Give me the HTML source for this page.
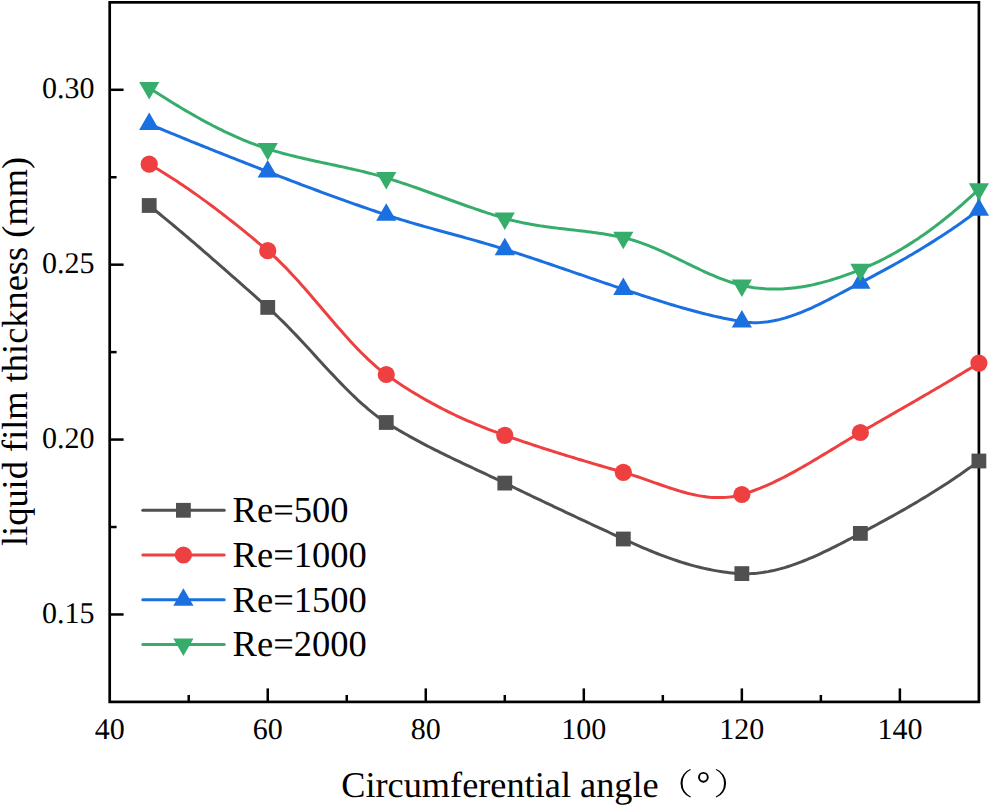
<!DOCTYPE html>
<html><head><meta charset="utf-8"><style>
html,body{margin:0;padding:0;background:#fff;}
svg{display:block;font-family:"Liberation Serif",serif;text-rendering:geometricPrecision;}
</style></head><body>
<svg width="990" height="806" viewBox="0 0 990 806">
<g stroke="#000" stroke-width="2.5"><line x1="188.72" y1="701.90" x2="188.72" y2="695.00"/><line x1="267.74" y1="701.90" x2="267.74" y2="688.40"/><line x1="346.75" y1="701.90" x2="346.75" y2="695.00"/><line x1="425.77" y1="701.90" x2="425.77" y2="688.40"/><line x1="504.79" y1="701.90" x2="504.79" y2="695.00"/><line x1="583.81" y1="701.90" x2="583.81" y2="688.40"/><line x1="662.83" y1="701.90" x2="662.83" y2="695.00"/><line x1="741.85" y1="701.90" x2="741.85" y2="688.40"/><line x1="820.86" y1="701.90" x2="820.86" y2="695.00"/><line x1="899.88" y1="701.90" x2="899.88" y2="688.40"/><line x1="109.70" y1="614.46" x2="123.60" y2="614.46"/><line x1="109.70" y1="527.01" x2="116.60" y2="527.01"/><line x1="109.70" y1="439.57" x2="123.60" y2="439.57"/><line x1="109.70" y1="352.12" x2="116.60" y2="352.12"/><line x1="109.70" y1="264.68" x2="123.60" y2="264.68"/><line x1="109.70" y1="177.24" x2="116.60" y2="177.24"/><line x1="109.70" y1="89.79" x2="123.60" y2="89.79"/></g>
<rect x="109.70" y="2.35" width="869.20" height="699.55" fill="none" stroke="#000" stroke-width="2.7"/>
<polyline points="149.2,205.50 152.0,207.74 154.8,209.99 157.5,212.24 160.3,214.51 163.1,216.79 165.9,219.09 168.6,221.39 171.4,223.70 174.2,226.01 177.0,228.34 179.7,230.68 182.5,233.02 185.3,235.38 188.1,237.74 190.8,240.10 193.6,242.48 196.4,244.86 199.2,247.25 201.9,249.64 204.7,252.04 207.5,254.44 210.3,256.85 213.0,259.27 215.8,261.69 218.6,264.11 221.4,266.54 224.1,268.97 226.9,271.40 229.7,273.84 232.5,276.28 235.2,278.72 238.0,281.17 240.8,283.61 243.6,286.06 246.3,288.51 249.1,290.96 251.9,293.41 254.7,295.86 257.4,298.31 260.2,300.76 263.0,303.20 265.8,305.65 268.5,308.10 271.3,310.60 274.1,313.16 276.9,315.78 279.6,318.45 282.4,321.17 285.2,323.94 288.0,326.76 290.7,329.61 293.5,332.49 296.3,335.41 299.1,338.36 301.8,341.32 304.6,344.31 307.4,347.31 310.2,350.33 312.9,353.35 315.7,356.37 318.5,359.40 321.3,362.42 324.0,365.43 326.8,368.43 329.6,371.42 332.4,374.38 335.1,377.32 337.9,380.24 340.7,383.12 343.5,385.96 346.2,388.77 349.0,391.53 351.8,394.25 354.6,396.92 357.3,399.53 360.1,402.08 362.9,404.57 365.7,406.99 368.4,409.34 371.2,411.61 374.0,413.81 376.7,415.93 379.5,417.96 382.3,419.89 385.1,421.74 387.8,423.50 390.6,425.22 393.4,426.92 396.2,428.59 398.9,430.24 401.7,431.87 404.5,433.47 407.3,435.05 410.0,436.60 412.8,438.14 415.6,439.66 418.4,441.16 421.1,442.64 423.9,444.10 426.7,445.55 429.5,446.98 432.2,448.40 435.0,449.81 437.8,451.20 440.6,452.58 443.3,453.94 446.1,455.30 448.9,456.65 451.7,457.99 454.4,459.32 457.2,460.64 460.0,461.96 462.8,463.28 465.5,464.59 468.3,465.89 471.1,467.19 473.9,468.49 476.6,469.79 479.4,471.09 482.2,472.39 485.0,473.69 487.7,474.99 490.5,476.30 493.3,477.61 496.1,478.93 498.8,480.25 501.6,481.57 504.4,482.91 507.2,484.25 509.9,485.59 512.7,486.92 515.5,488.26 518.3,489.59 521.0,490.92 523.8,492.25 526.6,493.58 529.4,494.91 532.1,496.23 534.9,497.56 537.7,498.88 540.5,500.20 543.2,501.52 546.0,502.84 548.8,504.16 551.6,505.47 554.3,506.78 557.1,508.10 559.9,509.41 562.7,510.72 565.4,512.03 568.2,513.33 571.0,514.64 573.8,515.94 576.5,517.25 579.3,518.55 582.1,519.85 584.9,521.15 587.6,522.44 590.4,523.74 593.2,525.03 596.0,526.33 598.7,527.62 601.5,528.91 604.3,530.20 607.1,531.48 609.8,532.77 612.6,534.06 615.4,535.34 618.2,536.62 620.9,537.90 623.7,539.18 626.5,540.45 629.3,541.71 632.0,542.96 634.8,544.19 637.6,545.41 640.4,546.62 643.1,547.80 645.9,548.97 648.7,550.13 651.5,551.26 654.2,552.38 657.0,553.48 659.8,554.55 662.6,555.61 665.3,556.64 668.1,557.65 670.9,558.64 673.7,559.60 676.4,560.54 679.2,561.45 682.0,562.34 684.8,563.20 687.5,564.03 690.3,564.83 693.1,565.61 695.9,566.35 698.6,567.06 701.4,567.74 704.2,568.39 707.0,569.01 709.7,569.59 712.5,570.13 715.3,570.65 718.1,571.12 720.8,571.56 723.6,571.96 726.4,572.32 729.2,572.64 731.9,572.93 734.7,573.17 737.5,573.37 740.3,573.53 743.0,573.64 745.8,573.69 748.6,573.66 751.4,573.56 754.1,573.40 756.9,573.17 759.7,572.87 762.5,572.51 765.2,572.09 768.0,571.62 770.8,571.08 773.6,570.49 776.3,569.84 779.1,569.14 781.9,568.39 784.7,567.59 787.4,566.74 790.2,565.85 793.0,564.92 795.8,563.94 798.5,562.92 801.3,561.86 804.1,560.77 806.9,559.64 809.6,558.48 812.4,557.29 815.2,556.06 818.0,554.81 820.7,553.53 823.5,552.23 826.3,550.90 829.1,549.55 831.8,548.19 834.6,546.80 837.4,545.40 840.2,543.98 842.9,542.56 845.7,541.12 848.5,539.67 851.3,538.21 854.0,536.75 856.8,535.29 859.6,533.82 862.4,532.35 865.1,530.88 867.9,529.40 870.7,527.92 873.5,526.43 876.2,524.94 879.0,523.44 881.8,521.93 884.6,520.42 887.3,518.89 890.1,517.36 892.9,515.82 895.7,514.27 898.4,512.72 901.2,511.15 904.0,509.57 906.8,507.98 909.5,506.37 912.3,504.76 915.1,503.13 917.9,501.49 920.6,499.83 923.4,498.16 926.2,496.48 929.0,494.78 931.7,493.06 934.5,491.33 937.3,489.58 940.1,487.81 942.8,486.03 945.6,484.23 948.4,482.41 951.2,480.57 953.9,478.71 956.7,476.83 959.5,474.93 962.3,473.01 965.0,471.06 967.8,469.10 970.6,467.11 973.4,465.10 976.1,463.06 978.9,461.00" fill="none" stroke="#505050" stroke-width="3.0" stroke-linejoin="round" stroke-linecap="round"/>
<polyline points="149.2,164.20 152.0,165.80 154.8,167.43 157.5,169.08 160.3,170.76 163.1,172.46 165.9,174.18 168.6,175.93 171.4,177.70 174.2,179.49 177.0,181.31 179.7,183.15 182.5,185.00 185.3,186.89 188.1,188.79 190.8,190.71 193.6,192.65 196.4,194.61 199.2,196.60 201.9,198.60 204.7,200.62 207.5,202.65 210.3,204.71 213.0,206.78 215.8,208.87 218.6,210.98 221.4,213.10 224.1,215.24 226.9,217.40 229.7,219.57 232.5,221.76 235.2,223.96 238.0,226.17 240.8,228.40 243.6,230.64 246.3,232.90 249.1,235.17 251.9,237.45 254.7,239.74 257.4,242.04 260.2,244.36 263.0,246.69 265.8,249.02 268.5,251.38 271.3,253.80 274.1,256.31 276.9,258.90 279.6,261.57 282.4,264.31 285.2,267.12 288.0,270.00 290.7,272.93 293.5,275.92 296.3,278.95 299.1,282.03 301.8,285.15 304.6,288.31 307.4,291.50 310.2,294.71 312.9,297.94 315.7,301.19 318.5,304.45 321.3,307.71 324.0,310.98 326.8,314.25 329.6,317.50 332.4,320.75 335.1,323.97 337.9,327.18 340.7,330.35 343.5,333.50 346.2,336.61 349.0,339.68 351.8,342.70 354.6,345.67 357.3,348.58 360.1,351.44 362.9,354.23 365.7,356.95 368.4,359.59 371.2,362.16 374.0,364.64 376.7,367.04 379.5,369.33 382.3,371.54 385.1,373.63 387.8,375.64 390.6,377.60 393.4,379.53 396.2,381.43 398.9,383.30 401.7,385.14 404.5,386.94 407.3,388.72 410.0,390.47 412.8,392.19 415.6,393.88 418.4,395.54 421.1,397.17 423.9,398.77 426.7,400.35 429.5,401.90 432.2,403.43 435.0,404.93 437.8,406.40 440.6,407.85 443.3,409.27 446.1,410.67 448.9,412.05 451.7,413.40 454.4,414.73 457.2,416.04 460.0,417.32 462.8,418.58 465.5,419.82 468.3,421.04 471.1,422.24 473.9,423.42 476.6,424.58 479.4,425.72 482.2,426.84 485.0,427.94 487.7,429.02 490.5,430.09 493.3,431.14 496.1,432.17 498.8,433.18 501.6,434.18 504.4,435.16 507.2,436.13 509.9,437.09 512.7,438.05 515.5,439.00 518.3,439.95 521.0,440.89 523.8,441.82 526.6,442.75 529.4,443.67 532.1,444.59 534.9,445.50 537.7,446.41 540.5,447.31 543.2,448.21 546.0,449.10 548.8,449.98 551.6,450.86 554.3,451.74 557.1,452.61 559.9,453.48 562.7,454.34 565.4,455.20 568.2,456.06 571.0,456.91 573.8,457.75 576.5,458.60 579.3,459.44 582.1,460.27 584.9,461.10 587.6,461.93 590.4,462.75 593.2,463.57 596.0,464.39 598.7,465.21 601.5,466.02 604.3,466.83 607.1,467.63 609.8,468.44 612.6,469.24 615.4,470.03 618.2,470.83 620.9,471.62 623.7,472.41 626.5,473.23 629.3,474.07 632.0,474.94 634.8,475.84 637.6,476.76 640.4,477.70 643.1,478.66 645.9,479.62 648.7,480.60 651.5,481.58 654.2,482.56 657.0,483.54 659.8,484.51 662.6,485.48 665.3,486.43 668.1,487.36 670.9,488.28 673.7,489.18 676.4,490.05 679.2,490.88 682.0,491.69 684.8,492.46 687.5,493.19 690.3,493.88 693.1,494.52 695.9,495.11 698.6,495.64 701.4,496.12 704.2,496.54 707.0,496.90 709.7,497.19 712.5,497.40 715.3,497.55 718.1,497.61 720.8,497.60 723.6,497.50 726.4,497.31 729.2,497.03 731.9,496.66 734.7,496.19 737.5,495.61 740.3,494.94 743.0,494.15 745.8,493.31 748.6,492.42 751.4,491.47 754.1,490.48 756.9,489.43 759.7,488.35 762.5,487.22 765.2,486.05 768.0,484.83 770.8,483.58 773.6,482.30 776.3,480.97 779.1,479.62 781.9,478.23 784.7,476.81 787.4,475.36 790.2,473.89 793.0,472.39 795.8,470.86 798.5,469.31 801.3,467.75 804.1,466.16 806.9,464.56 809.6,462.94 812.4,461.30 815.2,459.66 818.0,458.00 820.7,456.33 823.5,454.66 826.3,452.98 829.1,451.30 831.8,449.61 834.6,447.92 837.4,446.24 840.2,444.55 842.9,442.87 845.7,441.20 848.5,439.53 851.3,437.87 854.0,436.22 856.8,434.58 859.6,432.96 862.4,431.35 865.1,429.74 867.9,428.14 870.7,426.53 873.5,424.93 876.2,423.33 879.0,421.73 881.8,420.14 884.6,418.54 887.3,416.95 890.1,415.35 892.9,413.76 895.7,412.16 898.4,410.57 901.2,408.97 904.0,407.37 906.8,405.78 909.5,404.18 912.3,402.58 915.1,400.97 917.9,399.37 920.6,397.76 923.4,396.15 926.2,394.54 929.0,392.93 931.7,391.31 934.5,389.69 937.3,388.07 940.1,386.44 942.8,384.81 945.6,383.17 948.4,381.53 951.2,379.88 953.9,378.23 956.7,376.57 959.5,374.91 962.3,373.24 965.0,371.57 967.8,369.89 970.6,368.20 973.4,366.51 976.1,364.81 978.9,363.10" fill="none" stroke="#ee4040" stroke-width="3.0" stroke-linejoin="round" stroke-linecap="round"/>
<polyline points="149.2,124.10 152.0,125.26 154.8,126.43 157.5,127.58 160.3,128.74 163.1,129.89 165.9,131.04 168.6,132.19 171.4,133.33 174.2,134.47 177.0,135.61 179.7,136.74 182.5,137.88 185.3,139.01 188.1,140.13 190.8,141.26 193.6,142.38 196.4,143.50 199.2,144.62 201.9,145.74 204.7,146.85 207.5,147.96 210.3,149.07 213.0,150.18 215.8,151.29 218.6,152.39 221.4,153.49 224.1,154.59 226.9,155.69 229.7,156.79 232.5,157.88 235.2,158.98 238.0,160.07 240.8,161.16 243.6,162.25 246.3,163.34 249.1,164.43 251.9,165.51 254.7,166.60 257.4,167.68 260.2,168.77 263.0,169.85 265.8,170.93 268.5,172.01 271.3,173.09 274.1,174.16 276.9,175.24 279.6,176.31 282.4,177.38 285.2,178.44 288.0,179.51 290.7,180.57 293.5,181.63 296.3,182.68 299.1,183.73 301.8,184.78 304.6,185.83 307.4,186.87 310.2,187.91 312.9,188.95 315.7,189.98 318.5,191.01 321.3,192.04 324.0,193.06 326.8,194.08 329.6,195.10 332.4,196.11 335.1,197.12 337.9,198.12 340.7,199.12 343.5,200.12 346.2,201.11 349.0,202.10 351.8,203.08 354.6,204.06 357.3,205.03 360.1,206.00 362.9,206.96 365.7,207.92 368.4,208.88 371.2,209.83 374.0,210.78 376.7,211.72 379.5,212.65 382.3,213.58 385.1,214.51 387.8,215.42 390.6,216.33 393.4,217.22 396.2,218.10 398.9,218.97 401.7,219.83 404.5,220.67 407.3,221.51 410.0,222.33 412.8,223.15 415.6,223.96 418.4,224.76 421.1,225.56 423.9,226.35 426.7,227.13 429.5,227.91 432.2,228.68 435.0,229.45 437.8,230.22 440.6,230.98 443.3,231.74 446.1,232.50 448.9,233.26 451.7,234.02 454.4,234.78 457.2,235.54 460.0,236.30 462.8,237.06 465.5,237.83 468.3,238.60 471.1,239.37 473.9,240.15 476.6,240.93 479.4,241.72 482.2,242.52 485.0,243.32 487.7,244.13 490.5,244.94 493.3,245.77 496.1,246.61 498.8,247.45 501.6,248.31 504.4,249.18 507.2,250.05 509.9,250.94 512.7,251.82 515.5,252.72 518.3,253.62 521.0,254.52 523.8,255.43 526.6,256.34 529.4,257.26 532.1,258.18 534.9,259.11 537.7,260.04 540.5,260.97 543.2,261.91 546.0,262.85 548.8,263.79 551.6,264.73 554.3,265.68 557.1,266.62 559.9,267.57 562.7,268.52 565.4,269.48 568.2,270.43 571.0,271.38 573.8,272.34 576.5,273.29 579.3,274.25 582.1,275.20 584.9,276.16 587.6,277.11 590.4,278.06 593.2,279.01 596.0,279.96 598.7,280.91 601.5,281.86 604.3,282.80 607.1,283.74 609.8,284.68 612.6,285.62 615.4,286.55 618.2,287.48 620.9,288.41 623.7,289.33 626.5,290.25 629.3,291.17 632.0,292.09 634.8,293.00 637.6,293.91 640.4,294.82 643.1,295.72 645.9,296.62 648.7,297.52 651.5,298.41 654.2,299.29 657.0,300.17 659.8,301.04 662.6,301.90 665.3,302.75 668.1,303.60 670.9,304.44 673.7,305.27 676.4,306.09 679.2,306.90 682.0,307.70 684.8,308.49 687.5,309.27 690.3,310.04 693.1,310.79 695.9,311.53 698.6,312.26 701.4,312.98 704.2,313.68 707.0,314.37 709.7,315.04 712.5,315.70 715.3,316.34 718.1,316.96 720.8,317.57 723.6,318.17 726.4,318.74 729.2,319.30 731.9,319.83 734.7,320.35 737.5,320.85 740.3,321.33 743.0,321.79 745.8,322.15 748.6,322.42 751.4,322.59 754.1,322.66 756.9,322.65 759.7,322.55 762.5,322.36 765.2,322.09 768.0,321.74 770.8,321.31 773.6,320.81 776.3,320.24 779.1,319.60 781.9,318.89 784.7,318.12 787.4,317.29 790.2,316.40 793.0,315.45 795.8,314.45 798.5,313.40 801.3,312.31 804.1,311.17 806.9,309.99 809.6,308.77 812.4,307.51 815.2,306.22 818.0,304.90 820.7,303.55 823.5,302.17 826.3,300.77 829.1,299.36 831.8,297.92 834.6,296.47 837.4,295.01 840.2,293.54 842.9,292.06 845.7,290.58 848.5,289.10 851.3,287.62 854.0,286.14 856.8,284.67 859.6,283.21 862.4,281.76 865.1,280.31 867.9,278.84 870.7,277.37 873.5,275.90 876.2,274.41 879.0,272.92 881.8,271.42 884.6,269.91 887.3,268.39 890.1,266.86 892.9,265.32 895.7,263.76 898.4,262.20 901.2,260.63 904.0,259.04 906.8,257.44 909.5,255.82 912.3,254.20 915.1,252.55 917.9,250.90 920.6,249.23 923.4,247.54 926.2,245.84 929.0,244.12 931.7,242.38 934.5,240.62 937.3,238.85 940.1,237.06 942.8,235.25 945.6,233.42 948.4,231.57 951.2,229.70 953.9,227.81 956.7,225.90 959.5,223.97 962.3,222.02 965.0,220.04 967.8,218.04 970.6,216.02 973.4,213.97 976.1,211.90 978.9,209.80" fill="none" stroke="#1a70e0" stroke-width="3.0" stroke-linejoin="round" stroke-linecap="round"/>
<polyline points="149.2,87.90 152.0,89.70 154.8,91.49 157.5,93.26 160.3,95.03 163.1,96.79 165.9,98.53 168.6,100.26 171.4,101.98 174.2,103.68 177.0,105.37 179.7,107.04 182.5,108.70 185.3,110.34 188.1,111.97 190.8,113.57 193.6,115.16 196.4,116.74 199.2,118.29 201.9,119.82 204.7,121.33 207.5,122.82 210.3,124.29 213.0,125.74 215.8,127.16 218.6,128.56 221.4,129.94 224.1,131.30 226.9,132.62 229.7,133.93 232.5,135.20 235.2,136.45 238.0,137.67 240.8,138.87 243.6,140.04 246.3,141.17 249.1,142.28 251.9,143.36 254.7,144.40 257.4,145.42 260.2,146.40 263.0,147.35 265.8,148.27 268.5,149.15 271.3,150.00 274.1,150.84 276.9,151.64 279.6,152.43 282.4,153.20 285.2,153.94 288.0,154.67 290.7,155.38 293.5,156.07 296.3,156.75 299.1,157.41 301.8,158.06 304.6,158.70 307.4,159.33 310.2,159.95 312.9,160.57 315.7,161.17 318.5,161.77 321.3,162.37 324.0,162.96 326.8,163.55 329.6,164.14 332.4,164.73 335.1,165.32 337.9,165.91 340.7,166.51 343.5,167.11 346.2,167.72 349.0,168.34 351.8,168.96 354.6,169.60 357.3,170.24 360.1,170.90 362.9,171.57 365.7,172.25 368.4,172.95 371.2,173.67 374.0,174.40 376.7,175.16 379.5,175.93 382.3,176.72 385.1,177.54 387.8,178.38 390.6,179.24 393.4,180.11 396.2,181.00 398.9,181.90 401.7,182.81 404.5,183.74 407.3,184.67 410.0,185.62 412.8,186.58 415.6,187.54 418.4,188.52 421.1,189.50 423.9,190.48 426.7,191.47 429.5,192.47 432.2,193.47 435.0,194.48 437.8,195.48 440.6,196.49 443.3,197.50 446.1,198.51 448.9,199.51 451.7,200.52 454.4,201.52 457.2,202.52 460.0,203.51 462.8,204.50 465.5,205.49 468.3,206.46 471.1,207.43 473.9,208.39 476.6,209.35 479.4,210.29 482.2,211.22 485.0,212.14 487.7,213.05 490.5,213.94 493.3,214.82 496.1,215.69 498.8,216.54 501.6,217.37 504.4,218.18 507.2,218.97 509.9,219.73 512.7,220.44 515.5,221.12 518.3,221.76 521.0,222.37 523.8,222.95 526.6,223.50 529.4,224.02 532.1,224.52 534.9,224.99 537.7,225.44 540.5,225.87 543.2,226.29 546.0,226.68 548.8,227.06 551.6,227.43 554.3,227.78 557.1,228.12 559.9,228.46 562.7,228.78 565.4,229.11 568.2,229.42 571.0,229.74 573.8,230.06 576.5,230.38 579.3,230.70 582.1,231.03 584.9,231.36 587.6,231.70 590.4,232.05 593.2,232.42 596.0,232.79 598.7,233.19 601.5,233.60 604.3,234.03 607.1,234.47 609.8,234.94 612.6,235.44 615.4,235.96 618.2,236.51 620.9,237.08 623.7,237.69 626.5,238.35 629.3,239.07 632.0,239.86 634.8,240.71 637.6,241.60 640.4,242.56 643.1,243.56 645.9,244.60 648.7,245.69 651.5,246.82 654.2,247.98 657.0,249.17 659.8,250.40 662.6,251.65 665.3,252.93 668.1,254.23 670.9,255.54 673.7,256.87 676.4,258.21 679.2,259.56 682.0,260.91 684.8,262.27 687.5,263.62 690.3,264.97 693.1,266.31 695.9,267.64 698.6,268.96 701.4,270.25 704.2,271.53 707.0,272.79 709.7,274.02 712.5,275.22 715.3,276.39 718.1,277.52 720.8,278.61 723.6,279.66 726.4,280.67 729.2,281.63 731.9,282.53 734.7,283.38 737.5,284.18 740.3,284.91 743.0,285.58 745.8,286.19 748.6,286.73 751.4,287.22 754.1,287.65 756.9,288.03 759.7,288.34 762.5,288.60 765.2,288.81 768.0,288.96 770.8,289.06 773.6,289.11 776.3,289.10 779.1,289.05 781.9,288.95 784.7,288.80 787.4,288.60 790.2,288.36 793.0,288.07 795.8,287.73 798.5,287.35 801.3,286.93 804.1,286.47 806.9,285.97 809.6,285.43 812.4,284.85 815.2,284.23 818.0,283.57 820.7,282.88 823.5,282.15 826.3,281.39 829.1,280.60 831.8,279.77 834.6,278.91 837.4,278.02 840.2,277.10 842.9,276.15 845.7,275.18 848.5,274.18 851.3,273.15 854.0,272.10 856.8,271.02 859.6,269.92 862.4,268.79 865.1,267.63 867.9,266.43 870.7,265.20 873.5,263.93 876.2,262.62 879.0,261.28 881.8,259.90 884.6,258.48 887.3,257.03 890.1,255.55 892.9,254.02 895.7,252.46 898.4,250.87 901.2,249.24 904.0,247.57 906.8,245.87 909.5,244.13 912.3,242.36 915.1,240.55 917.9,238.70 920.6,236.82 923.4,234.90 926.2,232.95 929.0,230.96 931.7,228.94 934.5,226.88 937.3,224.78 940.1,222.65 942.8,220.48 945.6,218.28 948.4,216.04 951.2,213.77 953.9,211.46 956.7,209.12 959.5,206.74 962.3,204.33 965.0,201.88 967.8,199.39 970.6,196.87 973.4,194.32 976.1,191.73 978.9,189.10" fill="none" stroke="#36ad6b" stroke-width="3.0" stroke-linejoin="round" stroke-linecap="round"/>
<rect x="141.81" y="198.10" width="14.8" height="14.8" fill="#505050"/><rect x="260.34" y="300.00" width="14.8" height="14.8" fill="#505050"/><rect x="378.86" y="415.10" width="14.8" height="14.8" fill="#505050"/><rect x="497.39" y="475.70" width="14.8" height="14.8" fill="#505050"/><rect x="615.92" y="531.60" width="14.8" height="14.8" fill="#505050"/><rect x="734.45" y="566.20" width="14.8" height="14.8" fill="#505050"/><rect x="852.97" y="526.00" width="14.8" height="14.8" fill="#505050"/><rect x="971.50" y="453.60" width="14.8" height="14.8" fill="#505050"/>
<circle cx="149.21" cy="164.20" r="8.6" fill="#ee4040"/><circle cx="267.74" cy="250.70" r="8.6" fill="#ee4040"/><circle cx="386.26" cy="374.50" r="8.6" fill="#ee4040"/><circle cx="504.79" cy="435.30" r="8.6" fill="#ee4040"/><circle cx="623.32" cy="472.30" r="8.6" fill="#ee4040"/><circle cx="741.85" cy="494.50" r="8.6" fill="#ee4040"/><circle cx="860.37" cy="432.50" r="8.6" fill="#ee4040"/><circle cx="978.90" cy="363.10" r="8.6" fill="#ee4040"/>
<polygon points="149.21,112.44 159.31,129.93 139.11,129.93" fill="#1a70e0"/><polygon points="267.74,160.04 277.84,177.53 257.64,177.53" fill="#1a70e0"/><polygon points="386.26,203.24 396.36,220.73 376.16,220.73" fill="#1a70e0"/><polygon points="504.79,237.64 514.89,255.13 494.69,255.13" fill="#1a70e0"/><polygon points="623.32,277.54 633.42,295.03 613.22,295.03" fill="#1a70e0"/><polygon points="741.85,309.94 751.95,327.43 731.75,327.43" fill="#1a70e0"/><polygon points="860.37,271.14 870.47,288.63 850.27,288.63" fill="#1a70e0"/><polygon points="978.90,198.14 989.00,215.63 968.80,215.63" fill="#1a70e0"/>
<polygon points="139.11,82.07 159.31,82.07 149.21,99.56" fill="#36ad6b"/><polygon points="257.64,143.07 277.84,143.07 267.74,160.56" fill="#36ad6b"/><polygon points="376.16,172.07 396.36,172.07 386.26,189.56" fill="#36ad6b"/><polygon points="494.69,212.47 514.89,212.47 504.79,229.96" fill="#36ad6b"/><polygon points="613.22,231.77 633.42,231.77 623.32,249.26" fill="#36ad6b"/><polygon points="731.75,279.47 751.95,279.47 741.85,296.96" fill="#36ad6b"/><polygon points="850.27,263.77 870.47,263.77 860.37,281.26" fill="#36ad6b"/><polygon points="968.80,183.27 989.00,183.27 978.90,200.76" fill="#36ad6b"/>
<g font-size="30"><text x="109.70" y="738.6" text-anchor="middle">40</text><text x="267.74" y="738.6" text-anchor="middle">60</text><text x="425.77" y="738.6" text-anchor="middle">80</text><text x="583.81" y="738.6" text-anchor="middle">100</text><text x="741.85" y="738.6" text-anchor="middle">120</text><text x="899.88" y="738.6" text-anchor="middle">140</text><text x="94.5" y="97.89" text-anchor="end">0.30</text><text x="94.5" y="272.78" text-anchor="end">0.25</text><text x="94.5" y="447.67" text-anchor="end">0.20</text><text x="94.5" y="622.56" text-anchor="end">0.15</text></g>
<line x1="142.8" y1="510.30" x2="224.2" y2="510.30" stroke="#505050" stroke-width="3.0" stroke-linecap="round"/><rect x="176.00" y="502.90" width="14.8" height="14.8" fill="#505050"/><text x="232.6" y="522.30" font-size="36.5">Re=500</text><line x1="142.8" y1="555.00" x2="224.2" y2="555.00" stroke="#ee4040" stroke-width="3.0" stroke-linecap="round"/><circle cx="183.40" cy="555.00" r="8.6" fill="#ee4040"/><text x="232.6" y="567.00" font-size="36.5">Re=1000</text><line x1="142.8" y1="599.85" x2="224.2" y2="599.85" stroke="#1a70e0" stroke-width="3.0" stroke-linecap="round"/><polygon points="183.40,588.19 193.50,605.68 173.30,605.68" fill="#1a70e0"/><text x="232.6" y="611.85" font-size="36.5">Re=1500</text><line x1="142.8" y1="644.40" x2="224.2" y2="644.40" stroke="#36ad6b" stroke-width="3.0" stroke-linecap="round"/><polygon points="173.30,638.57 193.50,638.57 183.40,656.06" fill="#36ad6b"/><text x="232.6" y="656.40" font-size="36.5">Re=2000</text>
<text x="341.2" y="796.6" font-size="36.3">Circumferential angle</text>
<path d="M690.2,769.0 A15.29,15.29 0 0 0 690.3,797.5 L691.0,796.7 A15.0,15.0 0 0 1 690.9,769.8 Z" fill="#000"/>
<path d="M716.4,769.0 A15.29,15.29 0 0 1 716.3,797.5 L715.6,796.7 A15.0,15.0 0 0 0 715.7,769.8 Z" fill="#000"/>
<circle cx="703.4" cy="777.3" r="4.4" fill="none" stroke="#000" stroke-width="1.9"/>
<text transform="translate(27.4,546) rotate(-90)" font-size="36.4">liquid film thickness (mm)</text>
</svg>
</body></html>
